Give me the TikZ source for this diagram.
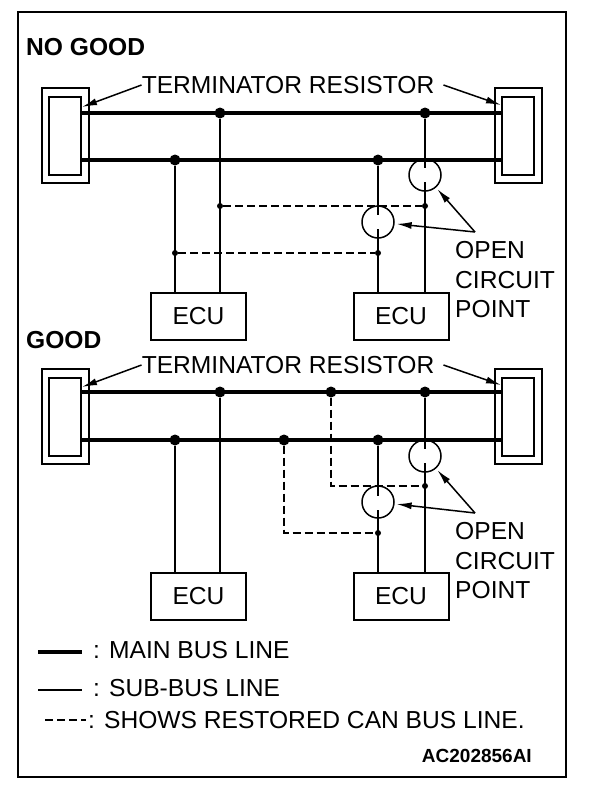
\documentclass[tikz,border=0pt]{standalone}
\usepackage{fontspec}
\setmainfont{Liberation Sans}
\usepackage{xcolor}
\usepackage{tikz}
\usetikzlibrary{arrows.meta}

\begin{document}
\begin{tikzpicture}[x=1pt,y=-1pt,font=\fontsize{24.6pt}{29.5pt}\selectfont]
			\tikzstyle{title} = [font=\fontsize{24.6pt}{29.5pt}\selectfont\bfseries, anchor=west, inner sep=0pt]
			\tikzstyle{lbl} = [inner sep=0pt]
			\tikzstyle{ecu} = [draw, line width=2pt, minimum width=95pt, minimum height=47pt]
			\tikzstyle{shell} = [draw, line width=2pt, minimum width=47pt, minimum height=95pt]
			\tikzstyle{core} = [draw, line width=2pt, minimum width=32pt, minimum height=78pt]
			\tikzstyle{joint} = [circle, fill, inner sep=0pt, minimum size=11pt]
			\tikzstyle{tap} = [circle, fill, inner sep=0pt, minimum size=6pt]
			\tikzstyle{openpt} = [circle, draw, line width=1.5pt, inner sep=0pt, minimum size=32pt]
			\tikzset{mainbus/.style = {line width=4.6pt}}
			\tikzset{subbus/.style = {line width=2.5pt}}
			\tikzset{restored/.style = {line width=1.8pt, dash pattern=on 8pt off 4pt}}
			\tikzset{pointer/.style = {-{Latex[length=15pt,width=7pt]}, line width=1.5pt}}
			
			\useasboundingbox (0,0) rectangle (608,790);
			\draw[line width=2.5pt] (18,12) rectangle (566,777);
			
			% no good
			\node[title](nogood) at (26,47.5) {NO GOOD};
			\node[shell](shellL1) at (65.5,135.5) {};
			\node[core](coreL1) at (65,136) {};
			\node[shell](shellR1) at (518.5,135.5) {};
			\node[core](coreR1) at (518,136) {};
			\node[lbl](term1) at (288,85) {TERMINATOR RESISTOR};
			\coordinate (tipL1) at (82,107);
			\coordinate (tipR1) at (501,105);
			\draw[pointer](term1.west) to (tipL1);
			\draw[pointer]([xshift=9pt]term1.east) to (tipR1);
			
			\node[joint](j11) at (220,113) {};
			\node[joint](j12) at (425,113) {};
			\node[joint](j13) at (175,160) {};
			\node[joint](j14) at (378,160) {};
			\draw[mainbus](coreL1.east |- j11) to (coreR1.west |- j11);
			\draw[mainbus](coreL1.east |- j13) to (coreR1.west |- j13);
			
			\node[ecu](ecu11) at (198.5,316) {ECU};
			\node[ecu](ecu12) at (401,316) {ECU};
			\node[openpt](op11) at (425,175) {};
			\node[openpt](op12) at (378,222) {};
			\coordinate (cut11a) at (425,168);
			\coordinate (cut11b) at (425,182);
			\coordinate (cut12a) at (378,215);
			\coordinate (cut12b) at (378,229);
			\draw[subbus](j11) to (j11 |- ecu11.north);
			\draw[subbus](j13) to (j13 |- ecu11.north);
			\draw[subbus](j12) to (cut11a);
			\draw[subbus](cut11b) to (j12 |- ecu12.north);
			\draw[subbus](j14) to (cut12a);
			\draw[subbus](cut12b) to (j14 |- ecu12.north);
			
			\node[tap](t11) at (425,206) {};
			\node[tap](t12) at (220,206) {};
			\node[tap](t13) at (378,253) {};
			\node[tap](t14) at (175,253) {};
			\draw[restored](t12) to (t11);
			\draw[restored](t14) to (t13);
			
			\node[lbl, anchor=west, align=left](open1) at (455,280) {OPEN\\CIRCUIT\\POINT};
			\coordinate (ar1) at (475,232);
			\draw[pointer, shorten >=2pt](ar1) to (op11);
			\draw[pointer, shorten >=2pt](ar1) to (op12);
			
			% good
			\node[title](good) at (26,340.5) {GOOD};
			\node[shell](shellL2) at (65.5,416) {};
			\node[core](coreL2) at (65,417) {};
			\node[shell](shellR2) at (518.5,416) {};
			\node[core](coreR2) at (518,417) {};
			\node[lbl](term2) at (288,365) {TERMINATOR RESISTOR};
			\coordinate (tipL2) at (82,387);
			\coordinate (tipR2) at (501,385);
			\draw[pointer](term2.west) to (tipL2);
			\draw[pointer]([xshift=9pt]term2.east) to (tipR2);
			
			\node[joint](j21) at (220,392) {};
			\node[joint](j22) at (331,392) {};
			\node[joint](j23) at (425,392) {};
			\node[joint](j24) at (175,440) {};
			\node[joint](j25) at (284,440) {};
			\node[joint](j26) at (378,440) {};
			\draw[mainbus](coreL2.east |- j21) to (coreR2.west |- j21);
			\draw[mainbus](coreL2.east |- j24) to (coreR2.west |- j24);
			
			\node[ecu](ecu21) at (198.5,596) {ECU};
			\node[ecu](ecu22) at (401,596) {ECU};
			\node[openpt](op21) at (425,456) {};
			\node[openpt](op22) at (378,502) {};
			\coordinate (cut21a) at (425,449);
			\coordinate (cut21b) at (425,463);
			\coordinate (cut22a) at (378,496);
			\coordinate (cut22b) at (378,510);
			\draw[subbus](j21) to (j21 |- ecu21.north);
			\draw[subbus](j24) to (j24 |- ecu21.north);
			\draw[subbus](j23) to (cut21a);
			\draw[subbus](cut21b) to (j23 |- ecu22.north);
			\draw[subbus](j26) to (cut22a);
			\draw[subbus](cut22b) to (j26 |- ecu22.north);
			
			\node[tap](t21) at (425,486) {};
			\node[tap](t22) at (378,533) {};
			\draw[restored](j22) -- (j22 |- t21) -- (t21);
			\draw[restored](j25) -- (j25 |- t22) -- (t22);
			
			\node[lbl, anchor=west, align=left](open2) at (455,561) {OPEN\\CIRCUIT\\POINT};
			\coordinate (ar2) at (475,513);
			\draw[pointer, shorten >=2pt](ar2) to (op21);
			\draw[pointer, shorten >=2pt](ar2) to (op22);
			
			% legend
			\draw[mainbus] (38,652) -- (82,652);
			\draw[subbus] (38,690) -- (82,690);
			\draw[restored] (45,720) -- (86,720);
			\node[lbl, anchor=west](keymain) at (93,650) {: MAIN BUS LINE};
			\node[lbl, anchor=west](keysub) at (93,688) {: SUB-BUS LINE};
			\node[lbl, anchor=west](keyrest) at (88,720) {: SHOWS RESTORED CAN BUS LINE.};
			\node[lbl, anchor=east, font=\fontsize{19pt}{21pt}\selectfont\bfseries](figid) at (532,756) {AC202856AI};
			
			\end{tikzpicture}
\end{document}
